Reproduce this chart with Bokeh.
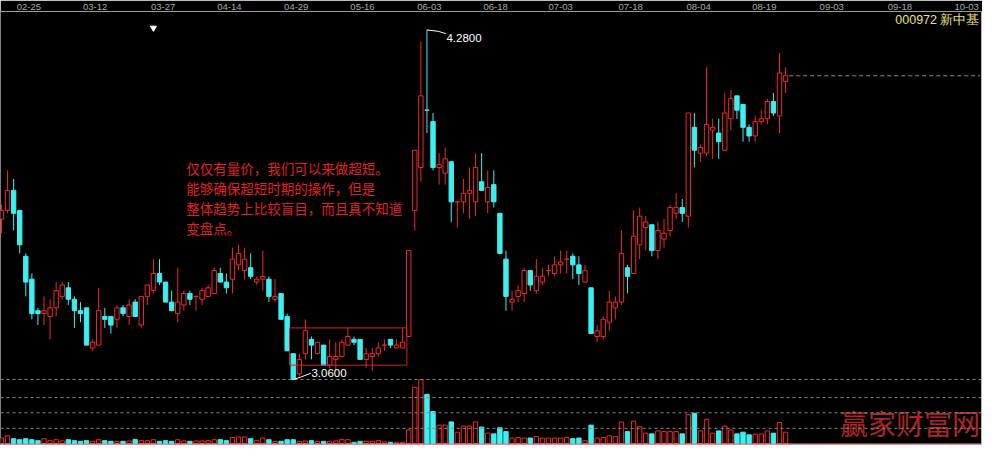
from bokeh.plotting import figure
from bokeh.models import Range1d, FixedTicker, Span, ColumnDataSource
from bokeh.embed import file_html
from bokeh.resources import INLINE
from bokeh.core.properties import value

# ---------------- data (daily candles, 000972 新中基) ----------------
opens = [
    3.62, 3.65, 3.72, 3.65, 3.49, 3.41, 3.30, 3.29, 3.28, 3.31,
    3.35, 3.38, 3.34, 3.30, 3.31, 3.17, 3.18, 3.28, 3.28, 3.27,
    3.31, 3.28, 3.33, 3.25, 3.35, 3.37, 3.43, 3.40, 3.33, 3.29,
    3.32, 3.36, 3.35, 3.34, 3.35, 3.36, 3.43, 3.40, 3.41, 3.46,
    3.44, 3.45, 3.40, 3.41, 3.41, 3.34, 3.36, 3.28, 3.15, 3.08,
    3.15, 3.20, 3.15, 3.18, 3.11, 3.13, 3.14, 3.18, 3.20, 3.20,
    3.13, 3.14, 3.15, 3.18, 3.20, 3.17, 3.17, 3.21, 3.65, 3.80,
    4.00, 3.96, 3.80, 3.78, 3.82, 3.68, 3.68, 3.71, 3.68, 3.75,
    3.68, 3.74, 3.64, 3.48, 3.33, 3.35, 3.36, 3.44, 3.37, 3.40,
    3.44, 3.43, 3.46, 3.48, 3.49, 3.46, 3.40, 3.38, 3.21, 3.21,
    3.26, 3.31, 3.33, 3.45, 3.43, 3.53, 3.59, 3.60, 3.51, 3.55,
    3.58, 3.64, 3.66, 3.63, 3.94, 3.85, 3.85, 3.93, 3.92, 3.86,
    3.97, 4.05, 4.02, 3.94, 3.91, 3.96, 3.97, 4.03, 3.98, 4.10,
]
highs = [
    3.67, 3.79, 3.76, 3.65, 3.50, 3.43, 3.31, 3.35, 3.34, 3.40,
    3.40, 3.40, 3.35, 3.33, 3.31, 3.20, 3.38, 3.31, 3.28, 3.32,
    3.32, 3.34, 3.34, 3.35, 3.39, 3.48, 3.48, 3.40, 3.37, 3.45,
    3.37, 3.37, 3.35, 3.38, 3.39, 3.45, 3.45, 3.43, 3.52, 3.53,
    3.52, 3.50, 3.42, 3.51, 3.42, 3.41, 3.36, 3.29, 3.15, 3.15,
    3.27, 3.21, 3.19, 3.18, 3.20, 3.19, 3.20, 3.24, 3.21, 3.20,
    3.17, 3.17, 3.19, 3.20, 3.20, 3.20, 3.24, 3.51, 3.86, 4.24,
    4.28, 3.99, 3.85, 3.87, 3.82, 3.68, 3.76, 3.80, 3.85, 3.85,
    3.79, 3.79, 3.64, 3.51, 3.37, 3.39, 3.45, 3.44, 3.48, 3.45,
    3.46, 3.49, 3.51, 3.51, 3.50, 3.49, 3.46, 3.38, 3.25, 3.28,
    3.37, 3.35, 3.58, 3.46, 3.65, 3.66, 3.63, 3.60, 3.61, 3.62,
    3.67, 3.71, 3.69, 3.99, 3.99, 3.88, 4.15, 3.97, 3.97, 4.06,
    4.07, 4.05, 4.02, 3.95, 3.98, 4.00, 4.04, 4.06, 4.20, 4.15,
]
lows = [
    3.57, 3.64, 3.58, 3.50, 3.35, 3.27, 3.25, 3.25, 3.20, 3.28,
    3.34, 3.32, 3.24, 3.26, 3.18, 3.16, 3.18, 3.24, 3.22, 3.24,
    3.28, 3.25, 3.28, 3.24, 3.32, 3.36, 3.39, 3.33, 3.30, 3.26,
    3.30, 3.32, 3.30, 3.32, 3.35, 3.36, 3.40, 3.36, 3.36, 3.44,
    3.41, 3.41, 3.39, 3.37, 3.33, 3.33, 3.27, 3.16, 3.06, 3.07,
    3.13, 3.13, 3.15, 3.11, 3.10, 3.09, 3.14, 3.18, 3.18, 3.13,
    3.10, 3.09, 3.14, 3.16, 3.17, 3.17, 3.17, 3.21, 3.58, 3.75,
    3.92, 3.79, 3.74, 3.74, 3.61, 3.59, 3.64, 3.62, 3.63, 3.72,
    3.64, 3.66, 3.50, 3.30, 3.30, 3.33, 3.33, 3.37, 3.36, 3.39,
    3.42, 3.42, 3.43, 3.43, 3.41, 3.39, 3.40, 3.22, 3.19, 3.20,
    3.23, 3.27, 3.32, 3.36, 3.43, 3.48, 3.51, 3.49, 3.48, 3.52,
    3.56, 3.62, 3.61, 3.59, 3.80, 3.82, 3.84, 3.83, 3.83, 3.86,
    3.93, 3.97, 3.89, 3.89, 3.89, 3.95, 3.95, 3.98, 3.92, 4.06,
]
closes = [
    3.65, 3.72, 3.64, 3.53, 3.40, 3.29, 3.29, 3.30, 3.31, 3.37,
    3.39, 3.34, 3.30, 3.29, 3.18, 3.19, 3.30, 3.27, 3.25, 3.31,
    3.29, 3.32, 3.28, 3.35, 3.39, 3.43, 3.40, 3.33, 3.30, 3.33,
    3.36, 3.34, 3.35, 3.37, 3.38, 3.44, 3.40, 3.38, 3.48, 3.50,
    3.48, 3.42, 3.41, 3.42, 3.35, 3.35, 3.27, 3.16, 3.06, 3.13,
    3.23, 3.18, 3.19, 3.11, 3.14, 3.14, 3.19, 3.21, 3.19, 3.13,
    3.15, 3.15, 3.17, 3.18, 3.18, 3.18, 3.19, 3.51, 3.86, 4.05,
    4.00, 3.80, 3.81, 3.83, 3.68, 3.68, 3.71, 3.72, 3.80, 3.72,
    3.73, 3.68, 3.50, 3.35, 3.34, 3.37, 3.44, 3.39, 3.42, 3.42,
    3.44, 3.46, 3.47, 3.48, 3.46, 3.43, 3.44, 3.22, 3.23, 3.27,
    3.33, 3.33, 3.50, 3.42, 3.56, 3.63, 3.61, 3.51, 3.58, 3.57,
    3.66, 3.66, 3.64, 3.99, 3.86, 3.87, 3.95, 3.94, 3.89, 3.99,
    4.04, 4.00, 3.94, 3.91, 3.96, 3.97, 4.03, 3.99, 4.13, 4.12,
]
volumes = [
    57, 80, 50, 40, 50, 40, 30, 50, 30, 40,
    27, 40, 30, 23, 30, 23, 40, 30, 23, 23,
    23, 27, 43, 30, 30, 40, 23, 30, 23, 40,
    27, 23, 27, 27, 30, 40, 40, 30, 63, 67,
    67, 50, 30, 57, 40, 23, 23, 40, 40, 23,
    27, 30, 23, 23, 23, 27, 43, 40, 13, 23,
    23, 23, 30, 17, 13, 13, 13, 140, 580, 657,
    507, 330, 190, 190, 223, 117, 180, 180, 223, 170,
    107, 100, 163, 123, 57, 63, 57, 57, 73, 57,
    57, 57, 57, 63, 50, 57, 30, 190, 57, 63,
    80, 73, 223, 123, 230, 173, 107, 100, 130, 123,
    123, 123, 100, 297, 313, 130, 250, 107, 130, 180,
    140, 100, 117, 90, 97, 97, 130, 107, 217, 117,
]
date_labels = ["02-25", "03-12", "03-27", "04-14", "04-29", "05-16", "06-03", "06-18",
               "07-03", "07-18", "08-04", "08-19", "09-03", "09-18", "10-03"]
date_tick_idx = [4.5, 15.4, 26.6, 37.5, 48.5, 59.4, 70.4, 81.3,
                 92.0, 103.5, 114.7, 125.5, 136.6, 147.8, 158.8]
vol_grid = [157, 317, 473, 660]
title_text = "000972 新中基"
note_lines = ["仅仅有量价，我们可以来做超短。",
              "能够确保超短时期的操作，但是",
              "整体趋势上比较盲目，而且真不知道",
              "变盘点。"]
watermark = "赢家财富网"
# annotation box drawn by the author (candle index span, price span)
box_from_idx, box_to_idx, box_low, box_high = 47.4, 66.7, 3.11, 3.24
note_idx, note_price = 30.4, 3.833
marker_idx, marker_price = 25.0, 4.287

# ---------------- styling ----------------
RED = "#f02828"
CYAN = "#3cf0f0"
GRAY = "#8a8a8a"
BW = 0.36

n = min(len(opens), len(highs), len(lows), len(closes), len(volumes))
up = []
for i in range(n):
    if closes[i] > opens[i]:
        up.append(True)
    elif closes[i] < opens[i]:
        up.append(False)
    else:
        up.append(closes[i] >= (closes[i - 1] if i else opens[i]))

def build(flag):
    ids = [i for i in range(n) if up[i] == flag]
    return ColumnDataSource(dict(
        x=ids,
        left=[i - BW for i in ids], right=[i + BW for i in ids],
        h=[highs[i] for i in ids], l=[lows[i] for i in ids],
        top=[max(opens[i], closes[i]) for i in ids],
        bot=[min(opens[i], closes[i]) for i in ids],
        vol=[volumes[i] for i in ids], zero=[0] * len(ids),
    ))

src_up = build(True)
src_dn = build(False)

x_start, x_end = -0.16, 161.4
p = figure(width=982, height=445, x_range=Range1d(x_start, x_end),
           y_range=Range1d(2.8296, 4.3443),
           x_axis_location="above", y_axis_location=None,
           output_backend="svg", toolbar_location=None, min_border=0,
           background_fill_color="black", border_fill_color="black",
           outline_line_color=None)
p.grid.visible = False
p.extra_y_ranges = {"vol": Range1d(-20, 4450)}

ax = p.xaxis[0]
ax.ticker = FixedTicker(ticks=date_tick_idx)
ax.major_label_overrides = {t: s for t, s in zip(date_tick_idx, date_labels)}
ax.major_tick_line_color = None
ax.minor_tick_line_color = None
ax.major_tick_out = 0
ax.major_tick_in = 0
ax.major_label_standoff = 2
ax.axis_line_color = "#9a9a9a"
ax.major_label_text_color = "#a8a8a8"
ax.major_label_text_font = "Liberation Sans"
ax.major_label_text_font_size = "9.5px"

# volume grid (dashed)
for v in vol_grid:
    p.add_layout(Span(location=v, dimension="width", y_range_name="vol",
                      line_color=GRAY, line_dash="3 3", line_width=1))
p.add_layout(Span(location=-10, dimension="width", y_range_name="vol",
                  line_color="#e09090", line_width=2))
p.add_layout(Span(location=x_end - 0.15, dimension="height",
                  line_color="#c8c8c8", line_width=1))

# volume bars
p.quad(left="left", right="right", bottom="zero", top="vol", source=src_dn,
       y_range_name="vol", fill_color=CYAN, line_color=CYAN, line_width=1)
p.quad(left="left", right="right", bottom="zero", top="vol", source=src_up,
       y_range_name="vol", fill_color="black", line_color=RED, line_width=1)

# candles
p.segment(x0="x", y0="h", x1="x", y1="l", source=src_dn, line_color=CYAN, line_width=1)
p.quad(left="left", right="right", bottom="bot", top="top", source=src_dn,
       fill_color=CYAN, line_color=CYAN, line_width=1)
p.segment(x0="x", y0="h", x1="x", y1="l", source=src_up, line_color=RED, line_width=1)
p.quad(left="left", right="right", bottom="bot", top="top", source=src_up,
       fill_color="black", line_color=RED, line_width=1)

# last close dashed line
p.segment(x0=[n - 0.4], y0=[closes[n - 1]], x1=[x_end - 0.4], y1=[closes[n - 1]],
          line_color=GRAY, line_dash="4 3", line_width=1)

# max / min labels
hi_i = max(range(n), key=lambda i: highs[i])
lo_i = min(range(n), key=lambda i: lows[i])
p.line(x=[hi_i, hi_i + 1.9, hi_i + 3.1], y=[highs[hi_i], highs[hi_i] - 0.005, highs[hi_i] - 0.013],
       line_color="white", line_width=1)
p.text(x=[hi_i + 3.2], y=[highs[hi_i] - 0.014], text=[f"{highs[hi_i]:.4f}"],
       text_color="white", text_font=value("Liberation Sans"), text_font_size="11.5px",
       text_align="left", text_baseline="top")
p.line(x=[lo_i, lo_i + 1.2, lo_i + 2.9], y=[lows[lo_i], lows[lo_i] + 0.008, lows[lo_i] + 0.022],
       line_color="white", line_width=1)
p.text(x=[lo_i + 3.0], y=[lows[lo_i] + 0.024], text=[f"{lows[lo_i]:.4f}"],
       text_color="white", text_font=value("Liberation Sans"), text_font_size="11.5px",
       text_align="left", text_baseline="middle")

# author's box and note
p.quad(left=[box_from_idx], right=[box_to_idx], bottom=[box_low], top=[box_high],
       fill_color=None, line_color="#d82020", line_width=1)
p.text(x=[note_idx], y=[note_price], text=["\n".join(note_lines)],
       text_color="#e02020", text_font=value("Noto Sans CJK SC"), text_font_size="13.5px",
       text_align="left", text_baseline="top", text_line_height=1.0)

# small marker
p.scatter(x=[marker_idx], y=[marker_price], marker="inverted_triangle", size=6,
          fill_color="white", line_color="white")

# title (code + name)
p.text(x=[x_end - 0.5], y=[4.3443 - 0.004], text=[title_text],
       text_color="#eee27a", text_font=value("Liberation Sans"), text_font_size="12.5px",
       text_align="right", text_baseline="top")

# watermark
p.text(x=[x_end - 0.4], y=[215], y_range_name="vol", text=[watermark],
       text_color="#c82828", text_font=value("Noto Sans CJK SC"), text_font_size="28px",
       text_align="right", text_baseline="middle", text_alpha=0.9)

open("out.html", "w").write(file_html(p, INLINE))
